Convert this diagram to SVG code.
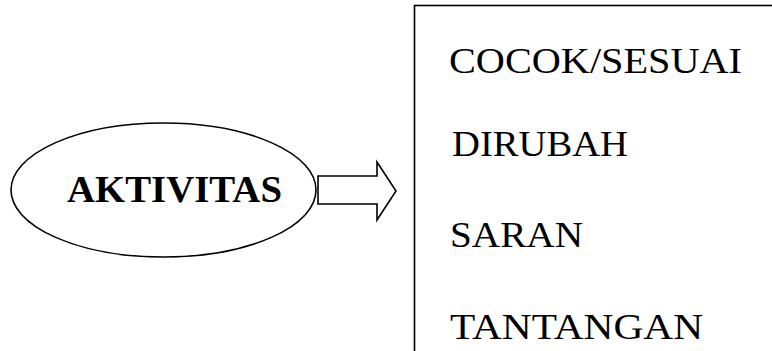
<svg xmlns="http://www.w3.org/2000/svg" width="772" height="351" viewBox="0 0 772 351">
<style>
.shape{fill:#fff;stroke:#000;stroke-width:1.6}
.t{font-family:"Liberation Serif","Times New Roman",serif;font-size:36px;fill:#000}
.b{font-weight:bold;font-size:37px}
</style>
<rect width="772" height="351" fill="#fff"/>
<g id="aktivitas">
<ellipse class="shape" cx="163.5" cy="190" rx="152.5" ry="67"/>
<text class="t b" x="67" y="202" textLength="215" lengthAdjust="spacingAndGlyphs">AKTIVITAS</text>
</g>
<g id="connectors">
<polygon class="shape" points="318,176 377,176 377,162 396,191 377,220 377,204 318,204"/>
</g>
<g id="hasil">
<rect class="shape" x="414.5" y="5.5" width="400" height="400"/>
<text class="t" x="449" y="73" textLength="293" lengthAdjust="spacingAndGlyphs">COCOK/SESUAI</text>
<text class="t" x="452" y="156" textLength="176" lengthAdjust="spacingAndGlyphs">DIRUBAH</text>
<text class="t" x="450" y="247" textLength="133" lengthAdjust="spacingAndGlyphs">SARAN</text>
<text class="t" x="450" y="339" textLength="253" lengthAdjust="spacingAndGlyphs">TANTANGAN</text>
</g>
</svg>
